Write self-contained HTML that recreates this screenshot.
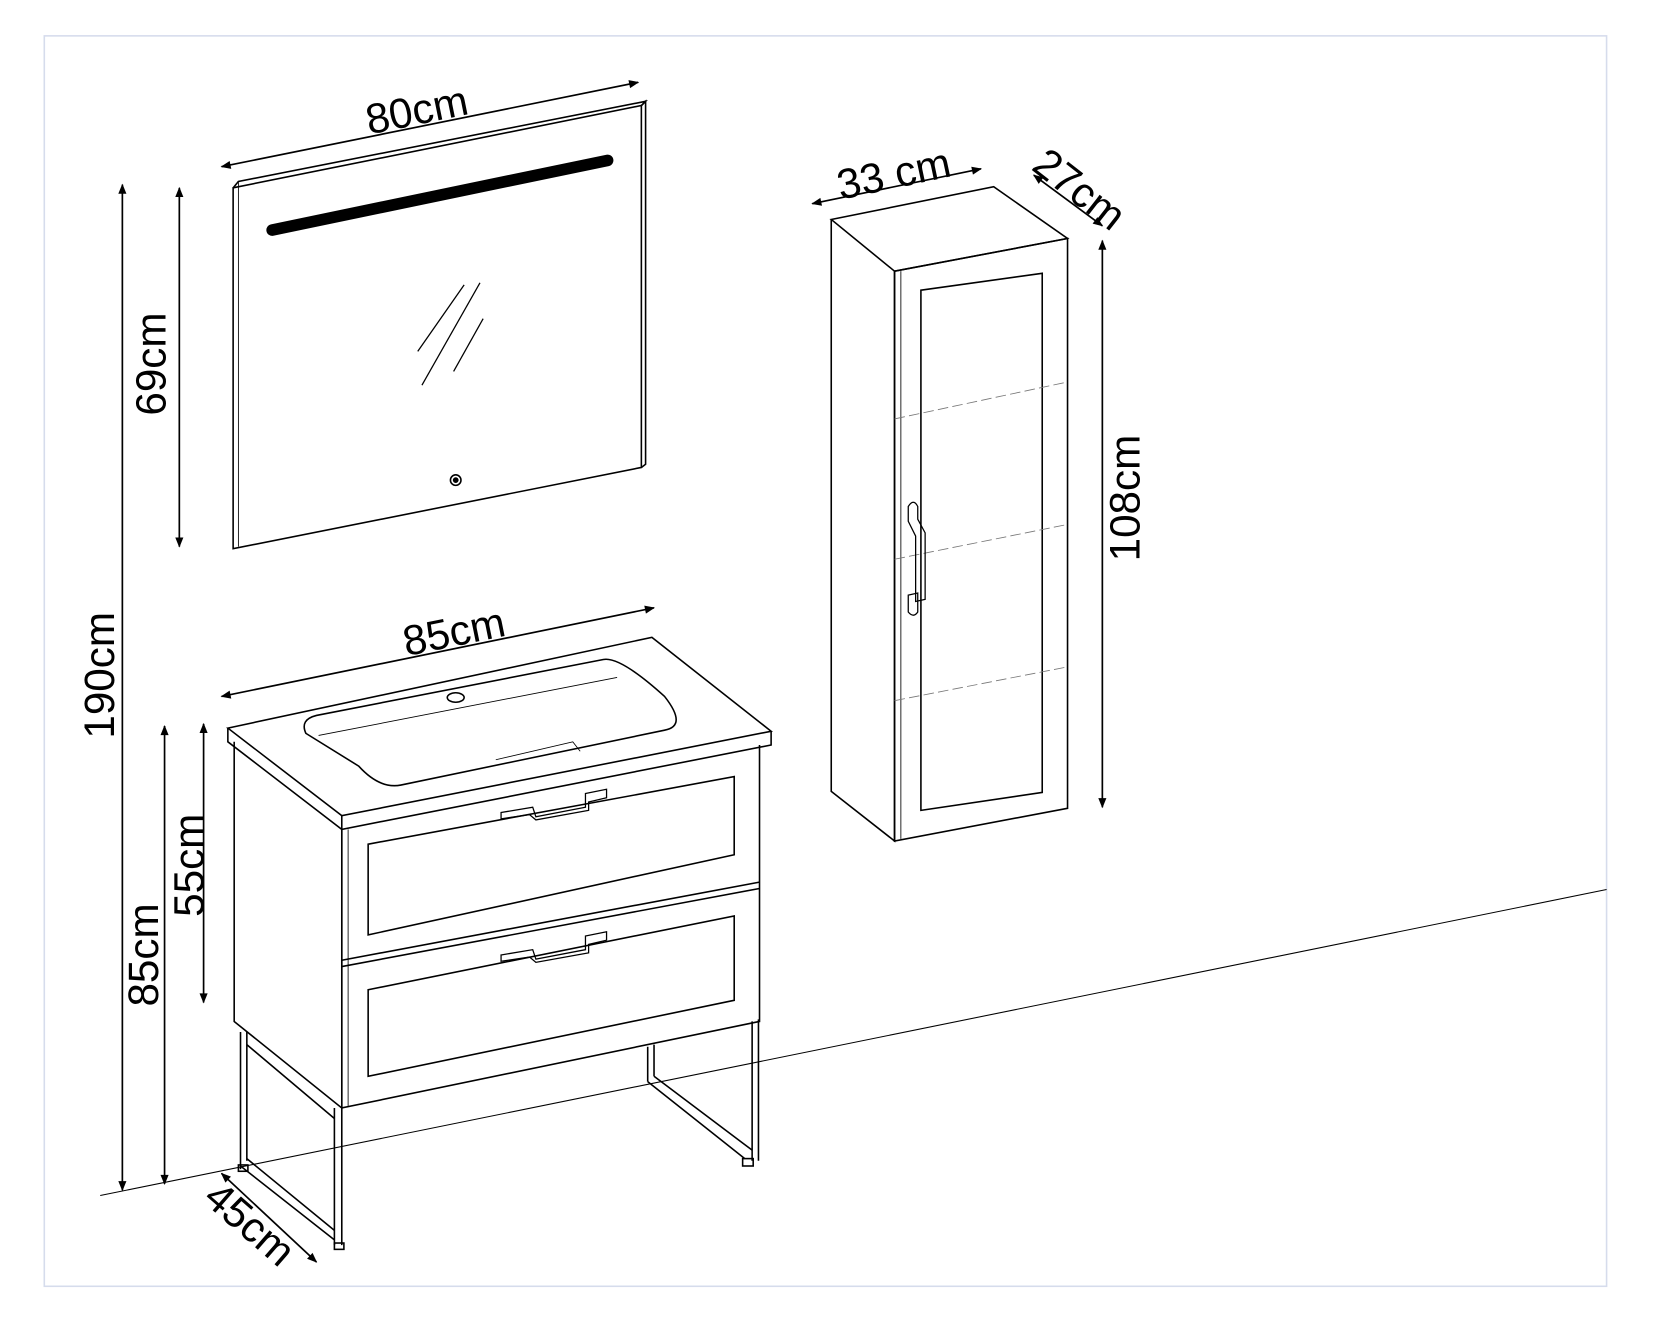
<!DOCTYPE html>
<html><head><meta charset="utf-8"><style>
html,body{margin:0;padding:0;background:#fff;width:1653px;height:1319px;overflow:hidden}
svg{display:block}
text{font-family:"Liberation Sans",sans-serif;font-size:40px;fill:#000}
</style></head><body>
<svg width="1653" height="1319" viewBox="0 0 1567 1250" preserveAspectRatio="none" xmlns="http://www.w3.org/2000/svg">
<defs>
<marker id="a" viewBox="0 0 10 10" refX="9" refY="5" markerWidth="9" markerHeight="6" orient="auto-start-reverse"><path d="M0,1 L10,5 L0,9z" fill="#000"/></marker>
</defs>
<rect x="42" y="34" width="1481" height="1185" fill="none" stroke="#d6dcec" stroke-width="1.5"/>
<g stroke="#000" fill="none" stroke-width="1.5">
<line x1="95" y1="1133" x2="1523" y2="843" stroke-width="1"/>
<g stroke-width="1.6" marker-start="url(#a)" marker-end="url(#a)">
<line x1="210" y1="158" x2="605" y2="78"/>
<line x1="116" y1="175" x2="116" y2="1128"/>
<line x1="170" y1="178" x2="170" y2="518"/>
<line x1="156" y1="688" x2="156" y2="1122"/>
<line x1="193" y1="686" x2="193" y2="950"/>
<line x1="210" y1="660" x2="620" y2="576"/>
<line x1="210" y1="1112" x2="300" y2="1196"/>
<line x1="770" y1="193" x2="930" y2="160"/>
<line x1="980" y1="166" x2="1045" y2="214"/>
<line x1="1045" y1="228" x2="1045" y2="765"/>
</g>
<path d="M221,178 L608,100 L608,443 L221,520 Z" fill="#fff"/>
<path d="M221,178 L226,172 L612,96 L608,100"/>
<path d="M226,172 L226,518" stroke-width="0.8"/>
<path d="M608,100 L612,96 L612,440 L608,443"/>
<line x1="258" y1="218" x2="576" y2="152" stroke-width="11" stroke-linecap="round"/>
<line x1="396" y1="333" x2="440" y2="270" stroke-width="1.2"/>
<line x1="400" y1="365" x2="455" y2="268" stroke-width="1.2"/>
<line x1="430" y1="352" x2="458" y2="302" stroke-width="1.2"/>
<circle cx="432" cy="455" r="5"/><circle cx="432" cy="455" r="2" fill="#000"/>
<path d="M216,690 L618,604 L731,693 L324,773 Z" fill="#fff"/>
<path d="M216,690 L216,703 L324,786 L731,706 L731,693 M324,773 L324,786"/>
<path d="M222,703 L222,968 L324,1050 L324,786"/>
<path d="M324,786 L324,1050 L720,968 L720,706"/>
<path d="M330,786 L330,1048" stroke-width="0.8"/>
<path d="M290,695 Q284,682 300,678 L572,625 Q588,622 630,660 Q652,688 630,692 L380,744 Q360,748 340,726 Z"/>
<path d="M302,697 L585,642" stroke-width="0.8"/>
<path d="M470,720 L543,703 L550,712" stroke-width="0.8"/>
<ellipse cx="432" cy="661" rx="8" ry="4.5"/>
<path d="M324,910 L720,836 M324,916 L720,842"/>
<path d="M349,800 L696,736 L696,810 L349,886 Z"/>
<path d="M349,938 L696,868 L696,948 L349,1020 Z"/>
<g stroke-width="1.2">
<path d="M475,770 L505,765 L508,774 L555,765 L555,752 L575,748 L575,756 L558,760 L558,768 L508,777 L502,772 L475,776 Z"/>
<path d="M475,905 L505,900 L508,909 L555,900 L555,887 L575,883 L575,891 L558,895 L558,903 L508,912 L502,907 L475,911 Z"/>
</g>
<path d="M228,978 L228,1108 M234,978 L234,1100 M234,990 L317,1060 M228,1105 L317,1175 M234,1098 L317,1166"/>
<path d="M317,1050 L317,1180 M324,1050 L324,1180"/>
<rect x="317" y="1178" width="9" height="6"/>
<rect x="226" y="1104" width="9" height="6"/>
<path d="M713,968 L713,1100 M719,966 L719,1100"/>
<path d="M614,992 L614,1025 M620,990 L620,1020 M614,1025 L706,1098 M620,1020 L713,1090"/>
<rect x="704" y="1098" width="10" height="7"/>
<path d="M788,208 L942,177 L1012,226 L848,257 Z" fill="#fff"/>
<path d="M788,208 L788,750 L848,797 L848,257"/>
<path d="M848,257 L1012,226 L1012,766 L848,797 Z"/>
<path d="M854,257 L854,795" stroke-width="0.8"/>
<path d="M873,275 L988,259 L988,751 L873,768 Z"/>
<g stroke="#777" stroke-width="0.8" stroke-dasharray="10 4">
<line x1="848" y1="397" x2="1012" y2="362"/>
<line x1="848" y1="530" x2="1012" y2="497"/>
<line x1="848" y1="664" x2="1012" y2="632"/>
</g>
<path d="M861,480 Q866,472 870,480 L870,492 L877,505 L877,568 L868,570 L868,508 L861,494 Z" stroke-width="1.2"/>
<path d="M861,564 L870,562 L870,580 Q866,586 861,580 Z" stroke-width="1.2"/>
</g>
<text x="395" y="118" text-anchor="middle" transform="rotate(-11.5 395 104)">80cm</text>
<text x="0" y="0" text-anchor="middle" transform="translate(108,640) rotate(-90)">190cm</text>
<text x="0" y="0" text-anchor="middle" transform="translate(157,345) rotate(-90)">69cm</text>
<text x="0" y="0" text-anchor="middle" transform="translate(150,905) rotate(-90)">85cm</text>
<text x="0" y="0" text-anchor="middle" transform="translate(193,820) rotate(-90)">55cm</text>
<text x="0" y="0" text-anchor="middle" transform="translate(433,612) rotate(-11.5)">85cm</text>
<text x="0" y="0" text-anchor="middle" transform="translate(228,1170) rotate(41)">45cm</text>
<text x="0" y="0" text-anchor="middle" transform="translate(850,178) rotate(-12)">33 cm</text>
<text x="0" y="0" text-anchor="middle" transform="translate(1015,190) rotate(38)">27cm</text>
<text x="0" y="0" text-anchor="middle" transform="translate(1080,472) rotate(-90)">108cm</text>
</svg>
</body></html>
